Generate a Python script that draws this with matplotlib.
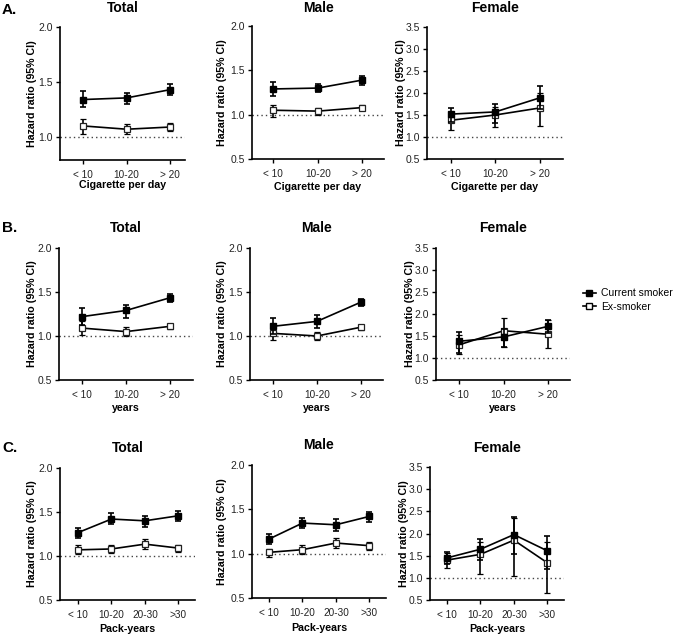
import matplotlib
matplotlib.use("Agg")
import matplotlib.pyplot as plt
from matplotlib.lines import Line2D

plt.rcParams['font.family'] = ['Liberation Sans', 'DejaVu Sans']

W, H = 685, 635

# ---------------- data ----------------
cats_cig = ["< 10", "10-20", "> 20"]
cats_years = ["< 10", "10-20", "> 20"]
cats_pack = ["< 10", "10-20", "20-30", ">30"]

# A. Cigarettes per day
a_total_cur = [1.34, 1.355, 1.43]
a_total_cur_lo = [1.27, 1.30, 1.38]
a_total_cur_hi = [1.42, 1.40, 1.48]
a_total_ex = [1.10, 1.07, 1.09]
a_total_ex_lo = [1.03, 1.03, 1.055]
a_total_ex_hi = [1.165, 1.12, 1.13]

a_male_cur = [1.29, 1.30, 1.39]
a_male_cur_lo = [1.21, 1.25, 1.335]
a_male_cur_hi = [1.365, 1.35, 1.44]
a_male_ex = [1.05, 1.04, 1.08]
a_male_ex_lo = [0.97, 1.00, 1.05]
a_male_ex_hi = [1.11, 1.075, 1.11]

a_fem_cur = [1.52, 1.57, 1.89]
a_fem_cur_lo = [1.35, 1.32, 1.63]
a_fem_cur_hi = [1.67, 1.76, 2.15]
a_fem_ex = [1.38, 1.50, 1.66]
a_fem_ex_lo = [1.15, 1.23, 1.24]
a_fem_ex_hi = [1.56, 1.68, 2.00]

# B. Years
b_total_cur = [1.22, 1.29, 1.435]
b_total_cur_lo = [1.12, 1.21, 1.39]
b_total_cur_hi = [1.315, 1.35, 1.475]
b_total_ex = [1.09, 1.05, 1.11]
b_total_ex_lo = [1.01, 1.00, 1.075]
b_total_ex_hi = [1.17, 1.10, 1.14]

b_male_cur = [1.11, 1.166, 1.385]
b_male_cur_lo = [1.02, 1.09, 1.34]
b_male_cur_hi = [1.21, 1.24, 1.42]
b_male_ex = [1.03, 1.00, 1.10]
b_male_ex_lo = [0.95, 0.955, 1.065]
b_male_ex_hi = [1.09, 1.05, 1.13]

b_fem_cur = [1.38, 1.48, 1.72]
b_fem_cur_lo = [1.12, 1.26, 1.57]
b_fem_cur_hi = [1.60, 1.67, 1.87]
b_fem_ex = [1.30, 1.62, 1.54]
b_fem_ex_lo = [1.09, 1.25, 1.23]
b_fem_ex_hi = [1.52, 1.91, 1.86]

# C. Pack-years
c_total_cur = [1.266, 1.42, 1.40, 1.457]
c_total_cur_lo = [1.21, 1.36, 1.33, 1.40]
c_total_cur_hi = [1.32, 1.49, 1.46, 1.51]
c_total_ex = [1.07, 1.08, 1.135, 1.09]
c_total_ex_lo = [1.02, 1.03, 1.08, 1.045]
c_total_ex_hi = [1.12, 1.13, 1.195, 1.13]

c_male_cur = [1.165, 1.345, 1.326, 1.42]
c_male_cur_lo = [1.11, 1.285, 1.26, 1.36]
c_male_cur_hi = [1.225, 1.405, 1.39, 1.475]
c_male_ex = [1.015, 1.045, 1.12, 1.09]
c_male_ex_lo = [0.96, 0.995, 1.06, 1.045]
c_male_ex_hi = [1.056, 1.10, 1.176, 1.127]

c_fem_cur = [1.45, 1.645, 1.975, 1.61]
c_fem_cur_lo = [1.32, 1.41, 1.53, 1.195]
c_fem_cur_hi = [1.59, 1.87, 2.37, 1.94]
c_fem_ex = [1.40, 1.53, 1.85, 1.34]
c_fem_ex_lo = [1.22, 1.09, 1.05, 0.66]
c_fem_ex_hi = [1.55, 1.80, 2.35, 1.80]

legend_labels = ["Current smoker", "Ex-smoker"]

# ---------------- layout (pixel boxes: x0, ytop, x1, ybottom) ----------------
fig = plt.figure(figsize=(W / 100, H / 100), dpi=100)


def add_ax(x0, yt, x1, yb):
    return fig.add_axes([x0 / W, 1 - yb / H, (x1 - x0) / W, (yb - yt) / H])


def panel(box, cats, cur, cur_lo, cur_hi, ex, ex_lo, ex_hi, ylim, yticks,
          title, xlabel, xlim, ylab_x, title_y, xlab_y):
    ax = add_ax(*box)
    x = list(range(len(cats)))
    ax.axhline(1.0, color='#444444', lw=1.0, ls=(0, (1, 2.2)), zorder=1)
    cur_err = [[c - l for c, l in zip(cur, cur_lo)], [h - c for c, h in zip(cur, cur_hi)]]
    ex_err = [[c - l for c, l in zip(ex, ex_lo)], [h - c for c, h in zip(ex, ex_hi)]]
    ax.errorbar(x, ex, yerr=ex_err, color='black', lw=1.2, elinewidth=1.2,
                capsize=2.3, capthick=1.2, marker='s', ms=4.8, mfc='white',
                mec='#222222', mew=0.9, zorder=3)
    ax.errorbar(x, cur, yerr=cur_err, color='black', lw=1.2, elinewidth=1.2,
                capsize=2.3, capthick=1.2, marker='s', ms=4.8, mfc='black',
                mec='black', zorder=4)
    ax.set_xlim(*xlim)
    ax.set_ylim(*ylim)
    ax.set_yticks(yticks)
    ax.set_yticklabels([f"{t:.1f}" for t in yticks])
    ax.set_xticks(x)
    ax.set_xticklabels(cats)
    for s in ['top', 'right']:
        ax.spines[s].set_visible(False)
    for s in ['left', 'bottom']:
        ax.spines[s].set_linewidth(1.2)
    ax.tick_params(axis='both', direction='out', length=3, width=1.0,
                   colors='black', labelcolor='#222222', pad=2)
    ax.tick_params(axis='y', labelsize=7.5)
    ax.tick_params(axis='x', labelsize=7.2, pad=4)
    x0, yt, x1, yb = box
    cx = (x0 + x1) / 2
    fig.text(cx / W, 1 - title_y / H, title, ha='center', va='center',
             fontsize=10, fontweight='bold')
    fig.text(cx / W, 1 - xlab_y / H, xlabel, ha='center', va='center',
             fontsize=7.7, fontweight='bold')
    fig.text(ylab_x / W, 1 - ((yt + yb) / 2) / H, "Hazard ratio (95% CI)",
             ha='center', va='center', rotation=90, fontsize=7.7,
             fontweight='bold')
    return ax


t12 = [1.0, 1.5, 2.0]
t052 = [0.5, 1.0, 1.5, 2.0]
t0535 = [0.5, 1.0, 1.5, 2.0, 2.5, 3.0, 3.5]

# Row A
panel((60, 27, 185, 160), cats_cig, a_total_cur, a_total_cur_lo, a_total_cur_hi,
      a_total_ex, a_total_ex_lo, a_total_ex_hi, (0.79, 2.0), t12,
      "Total", "Cigarette per day", (-0.53, 2.34), 32, 8, 185)
panel((252, 26, 384, 159), cats_cig, a_male_cur, a_male_cur_lo, a_male_cur_hi,
      a_male_ex, a_male_ex_lo, a_male_ex_hi, (0.5, 2.0), t052,
      "Male", "Cigarette per day", (-0.48, 2.49), 222, 8, 187)
panel((427, 27, 563, 159), cats_cig, a_fem_cur, a_fem_cur_lo, a_fem_cur_hi,
      a_fem_ex, a_fem_ex_lo, a_fem_ex_hi, (0.5, 3.5), t0535,
      "Female", "Cigarette per day", (-0.53, 2.52), 401, 8, 187)

# Row B
panel((59, 248, 193, 380), cats_years, b_total_cur, b_total_cur_lo, b_total_cur_hi,
      b_total_ex, b_total_ex_lo, b_total_ex_hi, (0.5, 2.0), t052,
      "Total", "years", (-0.52, 2.52), 32, 228, 408)
panel((250, 248, 383, 380), cats_years, b_male_cur, b_male_cur_lo, b_male_cur_hi,
      b_male_ex, b_male_ex_lo, b_male_ex_hi, (0.5, 2.0), t052,
      "Male", "years", (-0.52, 2.5), 222, 228, 408)
panel((436, 248, 570, 380), cats_years, b_fem_cur, b_fem_cur_lo, b_fem_cur_hi,
      b_fem_ex, b_fem_ex_lo, b_fem_ex_hi, (0.5, 3.5), t0535,
      "Female", "years", (-0.52, 2.49), 410, 228, 408)

# Row C
panel((60, 468, 195, 600), cats_pack, c_total_cur, c_total_cur_lo, c_total_cur_hi,
      c_total_ex, c_total_ex_lo, c_total_ex_hi, (0.5, 2.0), t052,
      "Total", "Pack-years", (-0.54, 3.5), 32, 448, 629)
panel((252, 465, 386, 598), cats_pack, c_male_cur, c_male_cur_lo, c_male_cur_hi,
      c_male_ex, c_male_ex_lo, c_male_ex_hi, (0.5, 2.0), t052,
      "Male", "Pack-years", (-0.51, 3.5), 222, 445, 628)
panel((430, 467, 564, 600), cats_pack, c_fem_cur, c_fem_cur_lo, c_fem_cur_hi,
      c_fem_ex, c_fem_ex_lo, c_fem_ex_hi, (0.5, 3.5), t0535,
      "Female", "Pack-years", (-0.51, 3.5), 404, 448, 629)

# Panel letters
for lab, y in [("A.", 10), ("B.", 228), ("C.", 448)]:
    fig.text(2 / W, 1 - y / H, lab, ha='left', va='center', fontsize=11,
             fontweight='bold')

# Legend
handles = [
    Line2D([0], [0], color='black', lw=1.2, marker='s', ms=4.8, mfc='black', mec='black'),
    Line2D([0], [0], color='black', lw=1.2, marker='s', ms=4.8, mfc='white', mec='black'),
]
fig.legend(handles, legend_labels, loc='center left',
           bbox_to_anchor=(583 / W, 1 - 300 / H), frameon=False, fontsize=7.5,
           handlelength=1.2, handletextpad=0.5, labelspacing=0.35, borderpad=0,
           borderaxespad=0)

fig.savefig("out.png", dpi=100)
